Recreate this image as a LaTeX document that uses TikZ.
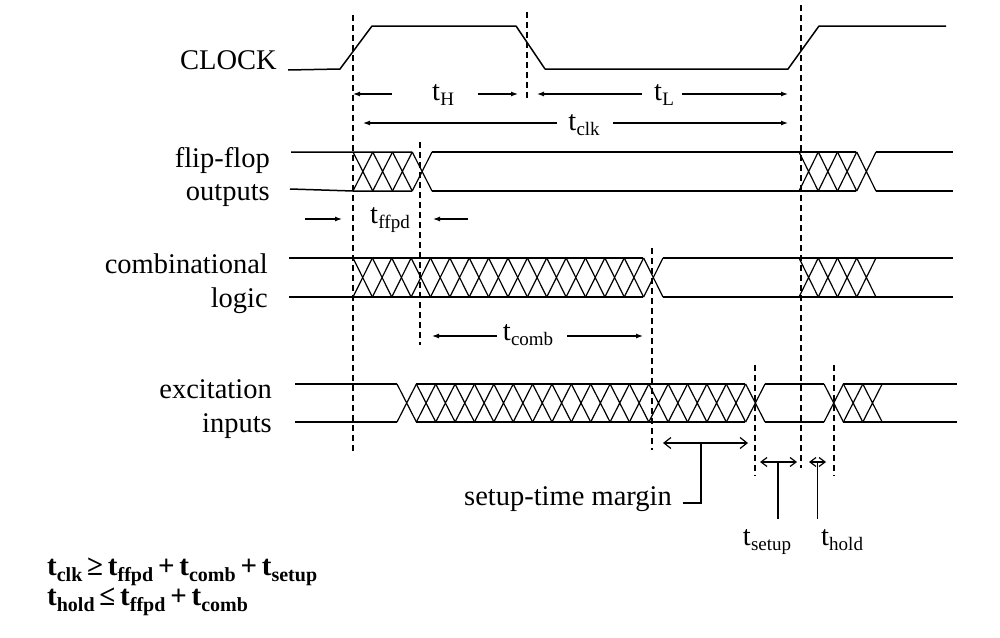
\documentclass[tikz,border=0pt]{standalone}
\usepackage{fontspec}
\setmainfont{Liberation Serif}
\usetikzlibrary{arrows.meta}
\newcommand{\tlab}[1]{t\kern0.3pt\raisebox{-5pt}{\fontsize{19}{19}\selectfont #1}}
\newcommand{\tbold}[1]{t\raisebox{-6pt}{\fontsize{20}{20}\selectfont\bfseries #1}}
\newcommand{\hatchrun}[5]{%
  \foreach \i in {1,...,#2}{%
    \draw[hat] ({#1+(\i-1)*#3},#4) -- ({#1+\i*#3},#5)
               ({#1+(\i-1)*#3},#5) -- ({#1+\i*#3},#4);
  }%
}
\begin{document}
\begin{tikzpicture}[x=1pt,y=-1pt,
  sig/.style={line width=1.5pt, line join=round},
  hat/.style={line width=1.2pt},
  vdash/.style={line width=1.2pt, dash pattern=on 6pt off 4pt},
  dim/.style={line width=1.2pt, -{Latex[length=7pt,width=5pt]}},
  barb/.style={line width=1.2pt, {Straight Barb[length=7pt,width=11pt]}-{Straight Barb[length=7pt,width=11pt]}},
  sbarb/.style={line width=1.2pt, {Straight Barb[length=6pt,width=9pt]}-{Straight Barb[length=6pt,width=9pt]}},
  lead/.style={line width=1.2pt},
  lbl/.style={font=\fontsize{28.5}{30}\selectfont, inner sep=0pt},
  fl/.style={font=\fontsize{29}{30}\selectfont\bfseries, inner sep=0pt}]
\useasboundingbox (0,0) rectangle (1000,637);

% CLOCK waveform
\draw[sig] (288,70) -- (340,69) -- (372,26) -- (516,26) -- (545,69) -- (788,69) -- (819,26) -- (946,26);

% flip-flop outputs (top 152, bottom 191)
\draw[sig] (291,152) -- (412,152) (290,189) -- (353,191) -- (412,191);
\hatchrun{353}{4}{19.75}{152}{191}
\draw[sig] (432,152) -- (856,152) (432,191) -- (856,191);
\hatchrun{799}{4}{19.25}{152}{191}
\draw[sig] (876,152) -- (953,152) (876,191) -- (953,191);

% combinational logic (top 258, bottom 297)
\draw[sig] (289,258) -- (643,258) (289,297) -- (643,297);
\hatchrun{353}{16}{19.375}{258}{297}
\draw[sig] (663,258) -- (953,258) (663,297) -- (953,297);
\hatchrun{799}{4}{19.25}{258}{297}

% excitation inputs (top 384, bottom 422)
\draw[sig] (295,384) -- (397,384) (295,422) -- (397,422);
\hatchrun{397}{19}{19.37}{384}{422}
\draw[sig] (416,384) -- (745,384) (416,422) -- (745,422);
\draw[sig] (765,384) -- (824,384) (765,422) -- (824,422);
\hatchrun{824}{3}{19.4}{384}{422}
\draw[sig] (843,384) -- (957,384) (843,422) -- (957,422);

% dashed reference lines
\draw[vdash] (353,15) -- (353,452);
\draw[vdash] (527,12) -- (527,100);
\draw[vdash] (801,5) -- (801,468);
\draw[vdash] (420,142) -- (420,345);
\draw[vdash] (652,248) -- (652,450);
\draw[vdash] (755,365) -- (755,476);
\draw[vdash] (834,365) -- (834,476);

% labels
\node[lbl, anchor=base east] (clock) at (277,69) {CLOCK};
\node[lbl, anchor=base east] (ff1) at (270,167) {flip-flop};
\node[lbl, anchor=base east] (ff2) at (270,200) {outputs};
\node[lbl, anchor=base east] (cl1) at (268,273) {combinational};
\node[lbl, anchor=base east] (cl2) at (268,307) {logic};
\node[lbl, anchor=base east] (ex1) at (272,398) {excitation};
\node[lbl, anchor=base east] (ex2) at (272,432) {inputs};

\node[lbl, anchor=base] (tH) at (443,100) {\tlab{H}};
\node[lbl, anchor=base] (tL) at (664,100) {\tlab{L}};
\node[lbl, anchor=base] (tclk) at (584,130) {\tlab{clk}};
\node[lbl, anchor=base] (tffpd) at (390,223) {\tlab{ffpd}};
\node[lbl, anchor=base] (tcomb) at (528,340) {\tlab{comb}};
\node[lbl, anchor=base east] (stm) at (672,505) {setup-time margin};
\node[lbl, anchor=base] (tsetup) at (767,545) {\tlab{setup}};
\node[lbl, anchor=base] (thold) at (842,545) {\tlab{hold}};

% dimension arrows
\draw[dim] (392,94) -- (353,94);
\draw[dim] (478,94) -- (518,94);
\draw[dim] (642,94) -- (537,94);
\draw[dim] (682,94) -- (788,94);
\draw[dim] (557,123) -- (363,123);
\draw[dim] (613,123) -- (788,123);
\draw[dim] (305,219) -- (342,219);
\draw[dim] (468,219) -- (433,219);
\draw[dim] (497,336) -- (432,336);
\draw[dim] (567,336) -- (643,336);

% setup-time margin, t_setup, t_hold
\draw[barb] (663,443) -- (748,443);
\draw[lead] (701,443) -- (701,503) -- (683,503);
\draw[sbarb] (760,462) -- (797,462);
\draw[lead] (778,462) -- (778,519);
\draw[sbarb] (809,462) -- (826,462);
\draw[lead] (817.5,462) -- (817.5,519);

% formulas
\node[fl, anchor=base west] (eq1) at (47,575) {\tbold{clk}\,≥\,\tbold{ffpd}\,+\,\tbold{comb}\,+\,\tbold{setup}};
\node[fl, anchor=base west] (eq2) at (47,605) {\tbold{hold}\,≤\,\tbold{ffpd}\,+\,\tbold{comb}};
\end{tikzpicture}
\end{document}
